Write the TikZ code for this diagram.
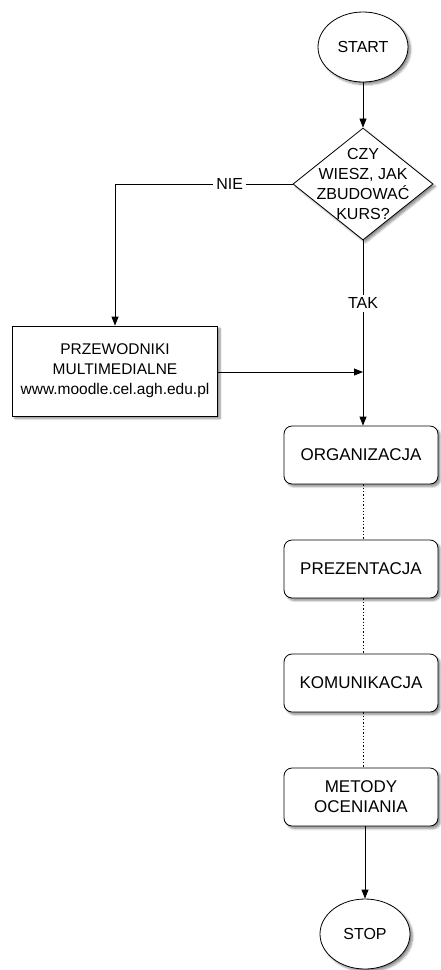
\documentclass[tikz,border=0pt]{standalone}
\usepackage{fontspec}
\setmainfont{Liberation Sans}
\usetikzlibrary{shapes.geometric,arrows.meta,shadows.blur}
\begin{document}
\begin{tikzpicture}[x=1pt,y=-1pt,
  sh/.style={blur shadow={shadow xshift=2.5pt,shadow yshift=-2.5pt,shadow blur steps=6,shadow opacity=45}},
  term/.style={ellipse,draw,fill=white,line width=0.8pt,minimum width=90pt,minimum height=70pt,inner sep=0pt,sh,font=\fontsize{16}{20}\selectfont},
  decision/.style={diamond,draw,fill=white,line width=0.8pt,minimum width=140pt,minimum height=112pt,inner sep=0pt,sh},
  process/.style={rectangle,draw,fill=white,line width=0.8pt,minimum width=205pt,minimum height=90pt,align=center,sh,font=\fontsize{15.5}{20}\selectfont},
  stepbox/.style={rectangle,rounded corners=8pt,draw,fill=white,line width=0.8pt,minimum width=154pt,minimum height=58pt,align=center,sh,font=\fontsize{17}{20}\selectfont},
  conn/.style={line width=0.8pt,-{Triangle[length=9pt,width=7pt]}},
  dots/.style={line width=1pt,dash pattern=on 1.3pt off 2pt},
  lbl/.style={fill=white,inner sep=3pt,font=\fontsize{16}{20}\selectfont}]
\useasboundingbox (0,0) rectangle (441,970);
\node[term] (start) at (363,47) {START};
\node[decision] (q) at (363,184) {};
\node[align=center,font=\fontsize{16}{20}\selectfont] (qt) at (q) {CZY\\WIESZ, JAK\\ZBUDOWAĆ\\KURS?};
\node[process] (prz) at (115,371) {PRZEWODNIKI\\MULTIMEDIALNE\\www.moodle.cel.agh.edu.pl};
\node[stepbox] (org) at (361,455) {ORGANIZACJA};
\node[stepbox] (pre) at (361,569) {PREZENTACJA};
\node[stepbox] (kom) at (361,683) {KOMUNIKACJA};
\node[stepbox] (met) at (361,797) {METODY\\OCENIANIA};
\node[term] (stop) at (365,934) {STOP};
\coordinate (join) at (363,372);

\draw[conn] (start) -- (q);
\draw[conn] (q.west) -| node[lbl,pos=0.177] {NIE} (prz.north);
\draw[conn] (q.south) -- node[lbl,pos=0.34] {TAK} (org.north -| q.south);
\draw[conn] (prz.east |- join) -- (join);
\draw[dots] (org.south -| q.south) -- (pre.north -| q.south);
\draw[dots] (pre.south -| q.south) -- (kom.north -| q.south);
\draw[dots] (kom.south -| q.south) -- (met.north -| q.south);
\draw[conn] (met.south -| stop.north) -- (stop.north);
\end{tikzpicture}
\end{document}
